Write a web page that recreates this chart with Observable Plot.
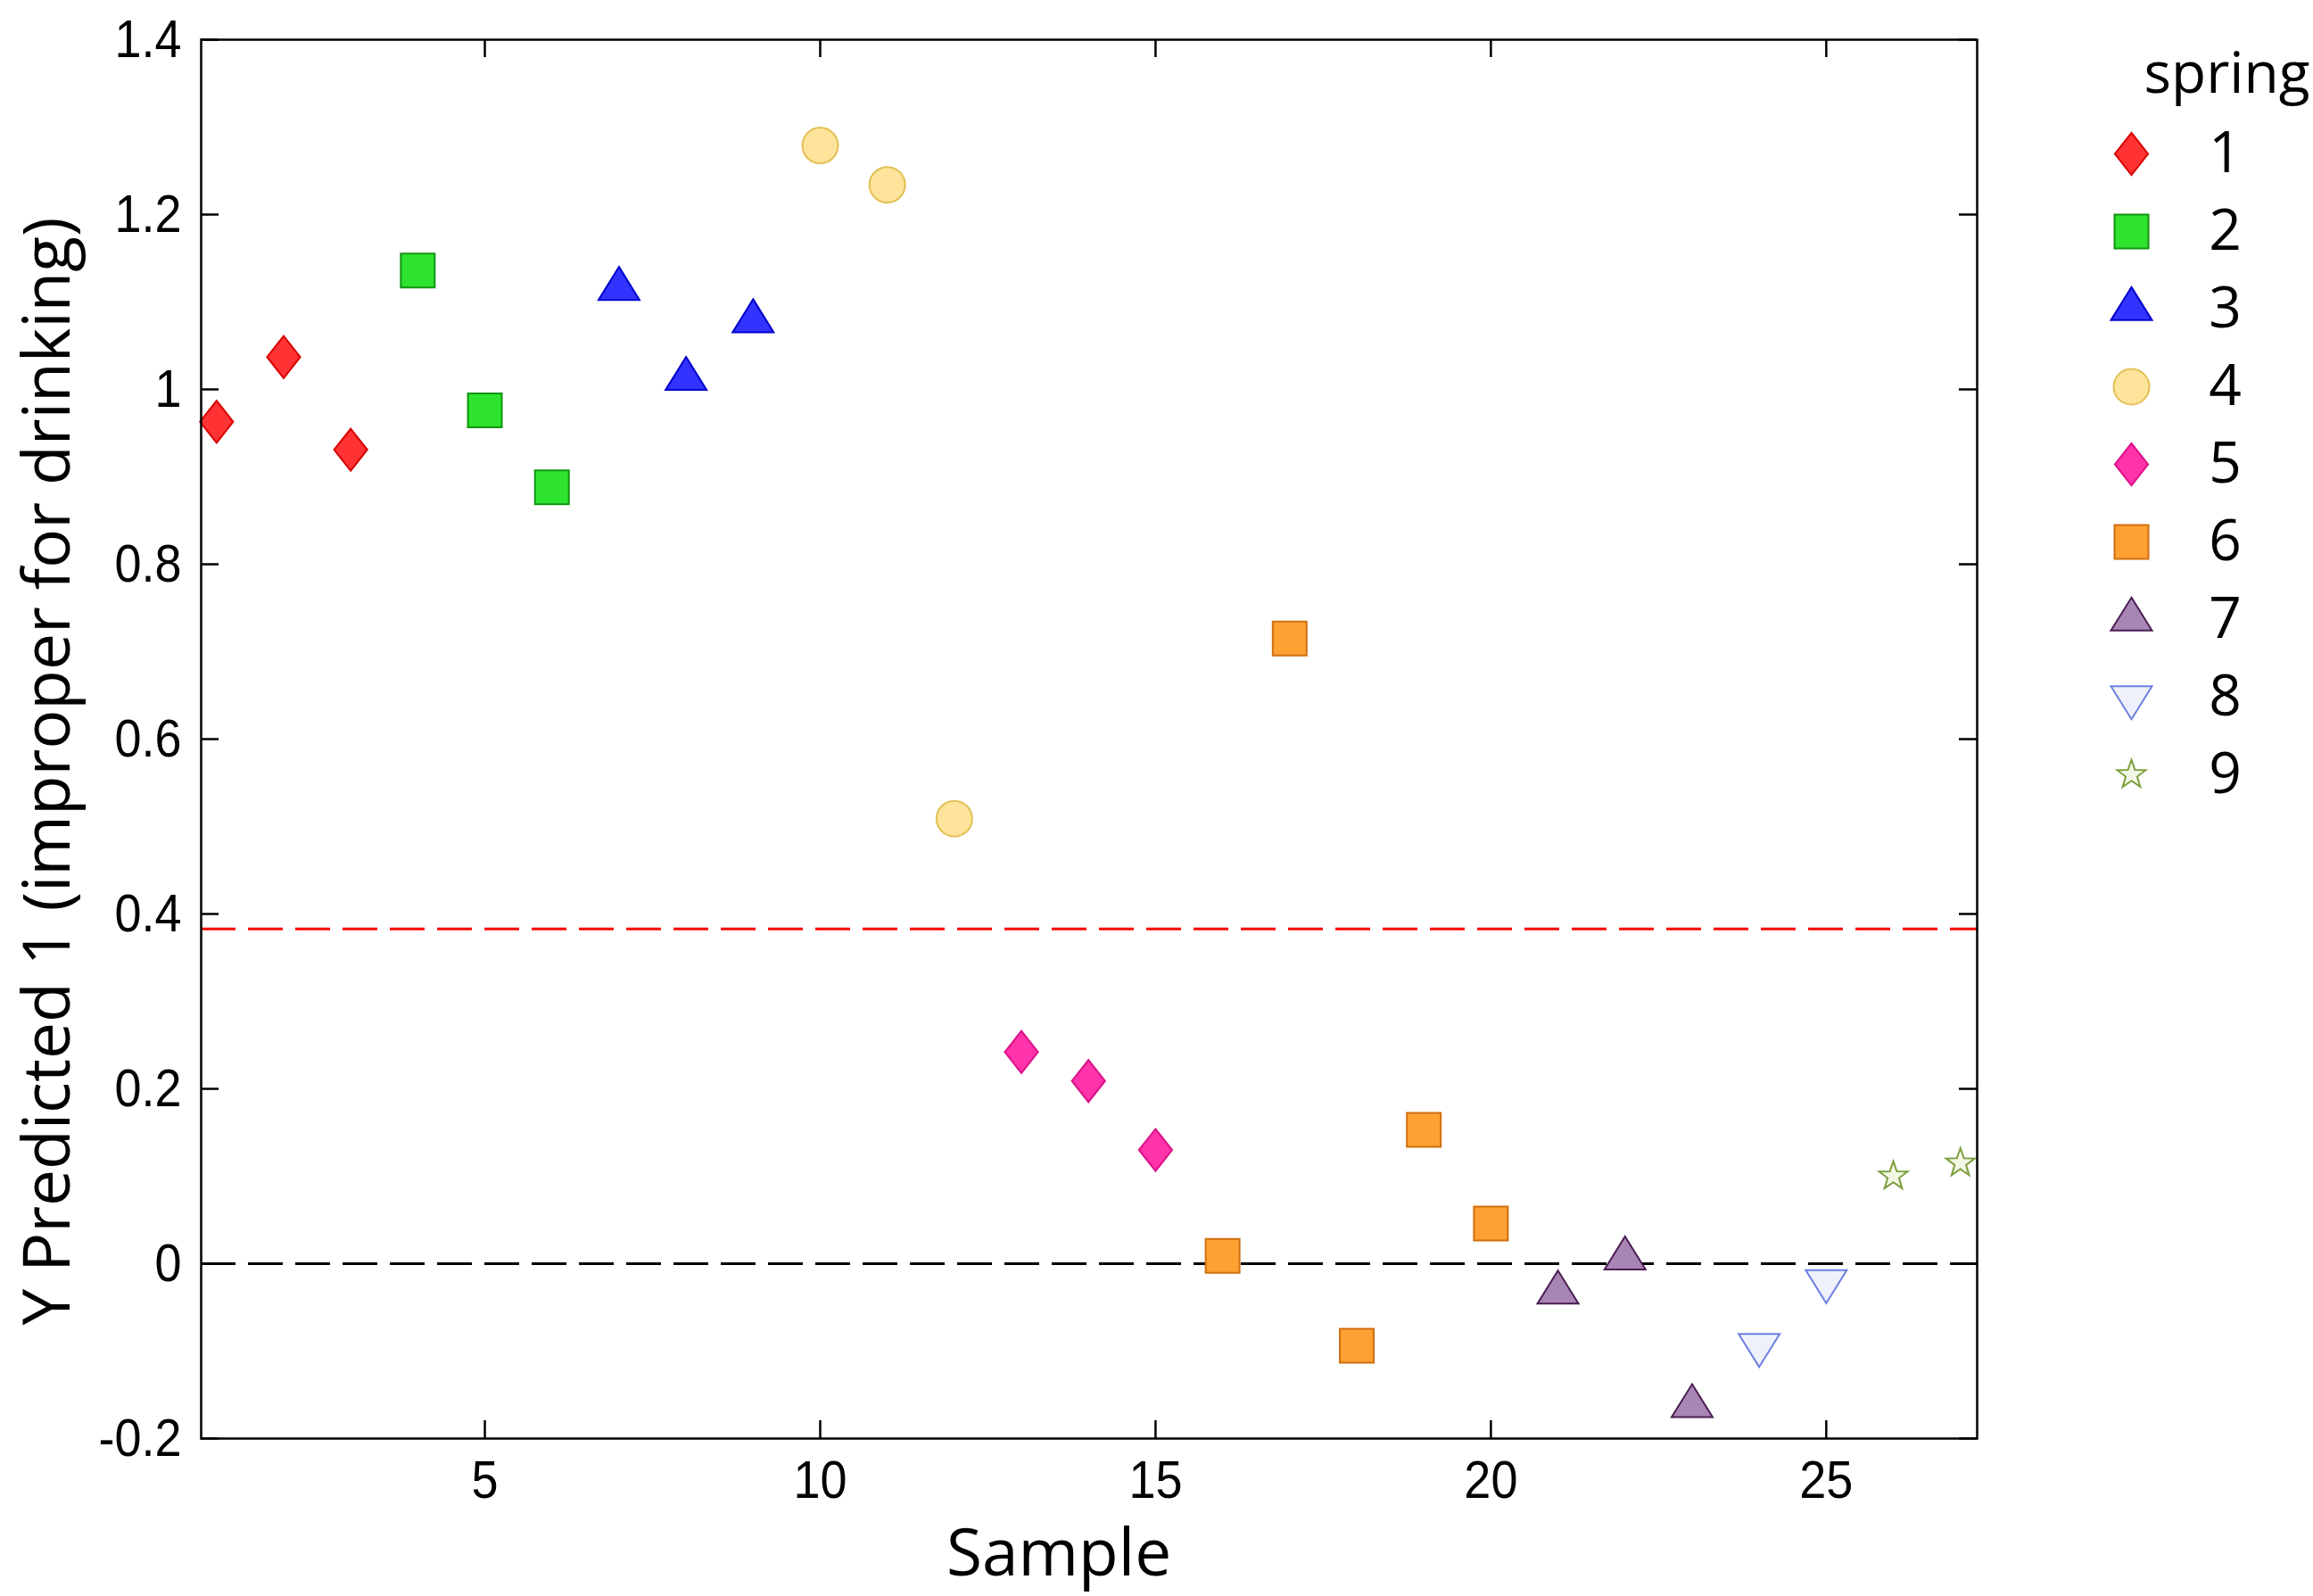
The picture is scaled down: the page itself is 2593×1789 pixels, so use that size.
<!DOCTYPE html>
<html>
<head>
<meta charset="utf-8">
<script src="https://cdn.jsdelivr.net/npm/d3@7"></script>
<script src="https://cdn.jsdelivr.net/npm/@observablehq/plot@0.6"></script>
<style>
  html, body { margin: 0; padding: 0; background: #fff; }
  #wrap { position: relative; width: 2593px; height: 1789px; overflow: hidden; }
  #legend { position: absolute; left: 2300px; top: 0px; }
  #main { position: absolute; left: 0; top: 0; }
</style>
</head>
<body>
<div id="wrap"><div id="main"></div><div id="legend"></div></div>
<script>
// ---- data ----
const samples = [1,2,3,4,5,6,7,8,9,10,11,12,13,14,15,16,17,18,19,20,21,22,23,24,25,26,27];
const springOfSample = [1,1,1,2,2,2,3,3,3,4,4,4,5,5,5,6,6,6,6,6,7,7,7,8,8,9,9];
const yPredicted = [0.963,1.037,0.931,1.136,0.976,0.888,1.115,1.012,1.078,1.279,1.234,0.509,
                    0.242,0.209,0.130,0.009,0.715,-0.094,0.153,0.046,-0.033,0.006,-0.163,-0.093,-0.020,0.100,0.115];
const springs = [1,2,3,4,5,6,7,8,9];
const springFill   = ["#ff3333","#2ee32e","#3333ff","#fde49a","#ff33aa","#ffa033","#a886b4","#eef0fc","#f1f9e6"];
const springStroke = ["#d90000","#129412","#0000cc","#e3bf55","#dc0f88","#cf6f10","#4b1d52","#6d7fe0","#7d9e3e"];
const springShape  = ["diamond","square","triangle","circle","diamond","square","triangle","triangleDown","star"];
const xTicks = [5,10,15,20,25];
const yTicks = [-0.2,0,0.2,0.4,0.6,0.8,1,1.2,1.4];
const refLines = [0];          // black dashed
const thresholdLines = [0.383]; // red dashed
const xLabel = "Sample";
const yLabel = "Y Predicted 1 (improper for drinking)";
const legendTitle = "spring";

const rows = samples.map((s, i) => ({sample: s, spring: springOfSample[i], y: yPredicted[i]}));

// ---- custom symbol shapes ----
const R = s => Math.sqrt(s / Math.PI);
const shapes = {
  diamond: {draw(c, s) { const r = R(s), w = 0.93 * r, h = 1.18 * r;
    c.moveTo(0, -h); c.lineTo(w, 0); c.lineTo(0, h); c.lineTo(-w, 0); c.closePath(); }},
  square: {draw(c, s) { const a = 0.95 * R(s);
    c.moveTo(-a, -a); c.lineTo(a, -a); c.lineTo(a, a); c.lineTo(-a, a); c.closePath(); }},
  triangle: {draw(c, s) { const r = R(s), w = 1.15 * r, h = 1.85 * r;
    c.moveTo(0, -2 * h / 3); c.lineTo(w, h / 3); c.lineTo(-w, h / 3); c.closePath(); }},
  triangleDown: {draw(c, s) { const r = R(s), w = 1.15 * r, h = 1.85 * r;
    c.moveTo(0, 2 * h / 3); c.lineTo(w, -h / 3); c.lineTo(-w, -h / 3); c.closePath(); }},
  circle: {draw(c, s) { const r = R(s); c.moveTo(r, 0); c.arc(0, 0, r, 0, 2 * Math.PI); c.closePath(); }},
  star: {draw(c, s) { const ro = 0.84 * R(s), ri = ro * 0.4;
    for (let k = 0; k < 10; k++) { const rr = k % 2 ? ri : ro; const a = -Math.PI / 2 + k * Math.PI / 5;
      const px = rr * Math.cos(a), py = rr * Math.sin(a); if (k) c.lineTo(px, py); else c.moveTo(px, py); }
    c.closePath(); }}
};

const W = 2593, H = 1789;
const mL = 225, mR = 377, mT = 44, mB = 177;
const frameW = W - mL - mR, frameH = H - mT - mB;
const tick = 20;
const tickFont = "'Liberation Sans', Arial, sans-serif";
const labelFont = "'Open Sans', 'Noto Sans', sans-serif";

const dotMarks = springs.map((sp, k) => Plot.dot(rows.filter(d => d.spring === sp), {
  x: "sample", y: "y", r: 20, symbol: shapes[springShape[k]],
  fill: springFill[k], stroke: springStroke[k], strokeWidth: 2
}));

const main = Plot.plot({
  width: W, height: H,
  marginLeft: mL, marginRight: mR, marginTop: mT, marginBottom: mB,
  style: {background: "#fff", overflow: "visible"},
  x: {domain: [0.77, 27.25]},
  y: {domain: [-0.2, 1.4]},
  marks: [
    Plot.ruleY(refLines, {y: d => d, stroke: "#000", strokeWidth: 3, strokeDasharray: "39,14"}),
    Plot.ruleY(thresholdLines, {y: d => d, stroke: "#ff0000", strokeWidth: 3, strokeDasharray: "39,14"}),
    // inward ticks on all four sides
    Plot.tickX(xTicks, {x: d => d, insetTop: frameH - tick, stroke: "#000", strokeWidth: 2.5}),
    Plot.tickX(xTicks, {x: d => d, insetBottom: frameH - tick, stroke: "#000", strokeWidth: 2.5}),
    Plot.tickY(yTicks, {y: d => d, insetRight: frameW - tick, stroke: "#000", strokeWidth: 2.5}),
    Plot.tickY(yTicks, {y: d => d, insetLeft: frameW - tick, stroke: "#000", strokeWidth: 2.5}),
    Plot.axisX({ticks: xTicks, tickSize: 0, tickPadding: 24, label: null, fontSize: 60,
      fontFamily: tickFont, fill: "#000", tickFormat: d => String(d)}),
    Plot.axisY({ticks: yTicks, tickSize: 0, tickPadding: 22, label: null, fontSize: 60,
      fontFamily: tickFont, fill: "#000", tickFormat: d => String(+d.toFixed(1))}),
    ...dotMarks,
    Plot.frame({stroke: "#000", strokeWidth: 2.5}),
    Plot.text([xLabel], {text: d => d, frameAnchor: "bottom", lineAnchor: "bottom", dy: 153, dx: -34,
      fontSize: 73, fontFamily: labelFont, fill: "#000"}),
    Plot.text([yLabel], {text: d => d, frameAnchor: "left", textAnchor: "middle", lineAnchor: "bottom",
      rotate: -90, dx: -148, dy: 36, fontSize: 73, fontFamily: labelFont, fill: "#000"})
  ]
});
// narrow the tick-label glyphs horizontally (reference uses a condensed face)
d3.select(main).selectAll('g[aria-label="x-axis tick label"] text, g[aria-label="y-axis tick label"] text')
  .attr("transform", function() { return (this.getAttribute("transform") || "") + " scale(0.9,1)"; });
document.getElementById("main").appendChild(main);

const legend = Plot.plot({
  width: 293, height: 950, margin: 0,
  style: {background: "transparent", overflow: "visible"},
  x: {domain: [0, 1], range: [89, 194], axis: null},
  y: {type: "point", domain: springs, range: [172, 868], padding: 0, axis: null},
  marks: [
    ...springs.map((sp, k) => Plot.dot([sp], {x: () => 0, y: d => d, r: 20, symbol: shapes[springShape[k]],
      fill: springFill[k], stroke: springStroke[k], strokeWidth: 2})),
    Plot.text(springs, {x: () => 1, y: d => d, text: d => String(d), fontSize: 64, fontFamily: labelFont,
      fill: "#000", lineAnchor: "middle"}),
    Plot.text([legendTitle], {text: d => d, frameAnchor: "top-left", textAnchor: "start", lineAnchor: "bottom",
      dx: 103, dy: 103, fontSize: 64, fontFamily: labelFont, fill: "#000"})
  ]
});
document.getElementById("legend").appendChild(legend);
</script>
</body>
</html>
